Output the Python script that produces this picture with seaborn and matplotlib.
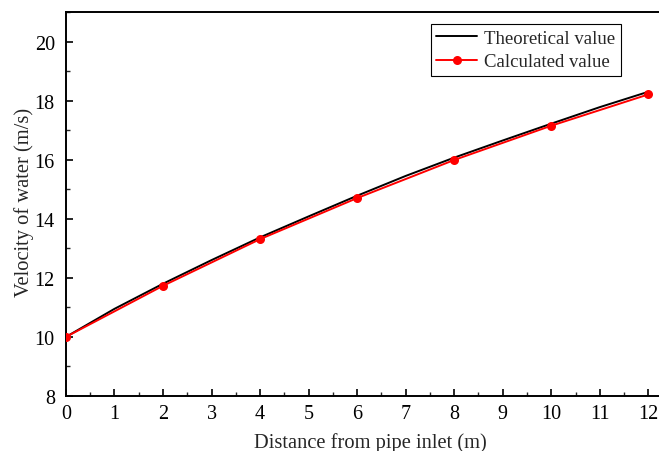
import numpy as np
import pandas as pd
import matplotlib
matplotlib.use("Agg")
import matplotlib.pyplot as plt
import seaborn as sns
from matplotlib.ticker import MultipleLocator

# Data
theo_x = [0, 1, 2, 3, 4, 5, 6, 7, 8, 9, 10, 11, 12]
theo_v = [10.0, 10.95, 11.8, 12.6, 13.37, 14.08, 14.78, 15.45, 16.07, 16.65, 17.22, 17.78, 18.3]
calc_x = [0, 2, 4, 6, 8, 10, 12]
calc_v = [10.0, 11.73, 13.31, 14.7, 15.99, 17.15, 18.21]
x_ticks = list(range(0, 13))
y_ticks = [8, 10, 12, 14, 16, 18, 20]

sns.set_theme(style="ticks")
plt.rcParams['font.family'] = ['Liberation Serif', 'DejaVu Serif']
plt.rcParams['mathtext.fontset'] = 'stix'

fig = plt.figure(figsize=(6.59, 4.52), dpi=100)
ax = fig.add_axes([0.100, 0.1217, 0.9, 0.8495])

df_t = pd.DataFrame({"x": theo_x, "v": theo_v})
df_c = pd.DataFrame({"x": calc_x, "v": calc_v})
sns.lineplot(data=df_t, x="x", y="v", ax=ax, color="black", lw=1.4,
             label="Theoretical value", zorder=2)
sns.lineplot(data=df_c, x="x", y="v", ax=ax, color="red", lw=1.4,
             marker="o", markersize=6.5, markeredgewidth=0, markeredgecolor="red",
             label="Calculated value", zorder=3)

ax.set_xlim(0, 12.22)
ax.set_ylim(8, 21)
ax.set_xticks(x_ticks)
ax.set_yticks(y_ticks)
ax.xaxis.set_minor_locator(MultipleLocator(0.5))
ax.yaxis.set_minor_locator(MultipleLocator(1))
ax.tick_params(which='major', direction='in', length=5, width=1.2, labelsize=14.5, colors='black')
ax.tick_params(which='minor', direction='in', length=3, width=1.0)
ax.tick_params(axis='x', which='both', top=False, pad=6)
ax.tick_params(axis='y', which='both', right=False, pad=8)

for s in ['left', 'bottom', 'top']:
    ax.spines[s].set_linewidth(1.4)
    ax.spines[s].set_color('black')
ax.spines['right'].set_visible(False)

ax.set_xlabel("Distance from pipe inlet (m)", fontsize=14.8)
ax.set_ylabel("Velocity of water (m/s)", fontsize=14.8)
ax.xaxis.set_label_coords(0.513, -0.094)
ax.yaxis.set_label_coords(-0.054, 0.506)

leg = ax.legend(loc='upper right', bbox_to_anchor=(0.936, 0.969), fontsize=13.5,
                frameon=True, fancybox=False, edgecolor='black', framealpha=1,
                handlelength=2.15, handletextpad=0.4, borderpad=0.3, labelspacing=0.35,
                borderaxespad=0)
leg.get_frame().set_linewidth(0.8)

fig.savefig("out.png", dpi=100)
